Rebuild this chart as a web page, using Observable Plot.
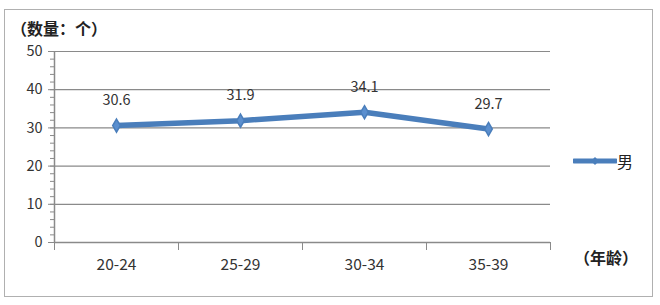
<!DOCTYPE html>
<html><head><meta charset="utf-8">
<script src="https://cdn.jsdelivr.net/npm/d3@7"></script>
<script src="https://cdn.jsdelivr.net/npm/@observablehq/plot@0.6"></script>
<style>
body{margin:0;background:#fff;font-family:"Noto Sans CJK SC","Noto Sans",sans-serif;}
#wrap{position:relative;width:660px;height:305px;}
#border{position:absolute;left:4px;top:9px;width:647px;height:286px;border:1.5px solid #b0b0b0;}
.lab{position:absolute;font-weight:bold;font-size:16px;color:#222;white-space:nowrap;}
#legend{position:absolute;left:573px;top:149px;display:flex;align-items:center;font-size:16px;color:#222;}
#chart{position:absolute;left:0;top:0;}
</style></head>
<body>
<div id="wrap">
<div id="border"></div>
<div id="chart"></div>
<div class="lab" style="left:11px;top:16px;">（数量：个）</div>
<div class="lab" style="left:574px;top:245px;">（年龄）</div>
<div id="legend"><svg width="44" height="12"><line x1="1" y1="6" x2="43" y2="6" stroke="#4a7ebb" stroke-width="5" stroke-linecap="round"/><path d="M22,2 L26,6 L22,10 L18,6Z" fill="#4a7ebb"/></svg><span>男</span></div>
</div>
<script>
const categories = ["20-24", "25-29", "30-34", "35-39"];
const values = [30.6, 31.9, 34.1, 29.7];
const seriesName = "男";
const yTicks = [0, 10, 20, 30, 40, 50];

const data = categories.map((c, i) => ({cat: c, pos: i + 0.5, value: values[i]}));
const minor = d3.range(0, 51, 2);
const none = () => "";

const chart = Plot.plot({
  width: 660, height: 305,
  marginLeft: 54, marginRight: 110, marginTop: 51, marginBottom: 63,
  style: {fontFamily: '"Noto Sans CJK SC","Noto Sans",sans-serif', background: "transparent"},
  x: {domain: [0, categories.length], axis: null, label: null},
  y: {domain: [0, 50], axis: null, label: null},
  marks: [
    Plot.ruleY(yTicks.slice(1), {stroke: "#8a8a8a", strokeWidth: 1.2}),
    Plot.ruleY([0], {stroke: "#8a8a8a", strokeWidth: 1.5}),
    Plot.ruleX([0], {stroke: "#8a8a8a", strokeWidth: 1.5}),
    Plot.axisY({ticks: minor, tickSize: 4, tickFormat: none, label: null, stroke: "#8a8a8a"}),
    Plot.axisY({ticks: yTicks, tickSize: 6, tickPadding: 6, fontSize: 14.5, fill: "#333", stroke: "#8a8a8a", label: null, tickFormat: d => d}),
    Plot.axisX({ticks: d3.range(0, categories.length + 1), tickSize: 8, tickFormat: none, label: null, stroke: "#8a8a8a"}),
    Plot.axisX({ticks: data.map(d => d.pos), tickSize: 0, tickPadding: 16, fontSize: 15.5, fill: "#333", label: null, tickFormat: (d) => categories[Math.floor(d)]}),
    Plot.line(data, {x: "pos", y: "value", stroke: "#4a7ebb", strokeWidth: 5.5, strokeLinejoin: "round", strokeLinecap: "round",
      style: "filter: drop-shadow(1px 2px 1.5px rgba(0,0,0,0.3))"}),
    Plot.dot(data, {x: "pos", y: "value", symbol: "diamond", r: 4, fill: "#5b8fcf", stroke: "#4a7ebb"}),
    Plot.text(data, {x: "pos", y: "value", text: d => d.value.toFixed(1), dy: -25, fontSize: 14.5, fill: "#333"})
  ]
});
document.getElementById("chart").appendChild(chart);
</script>
</body></html>
